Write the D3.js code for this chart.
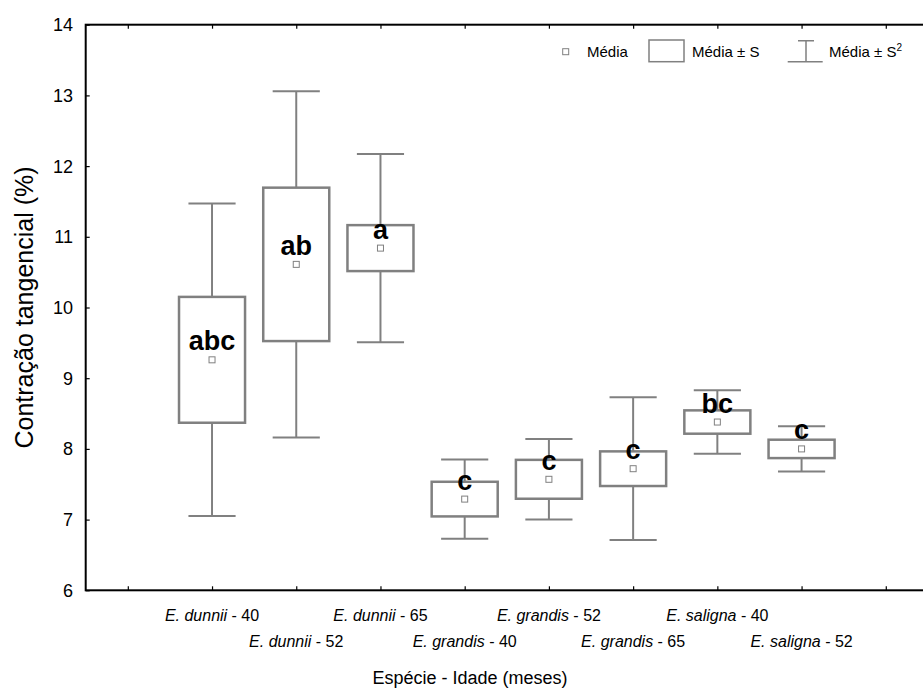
<!DOCTYPE html>
<html>
<head>
<meta charset="utf-8">
<script src="https://cdn.jsdelivr.net/npm/d3@7"></script>
<style>
  body { margin: 0; background: #fff; }
  svg { display: block; font-family: "Liberation Sans", Arial, sans-serif; }
</style>
</head>
<body>
<div id="chart"></div>
<script>
// groups: species + age (months)
const species = ["E. dunnii", "E. dunnii", "E. dunnii", "E. grandis", "E. grandis", "E. grandis", "E. saligna", "E. saligna"];
const ages = ["40", "52", "65", "40", "52", "65", "40", "52"];
// mean, half height of box (S) and half length of whiskers (S²)
const means = [9.26, 10.61, 10.84, 7.29, 7.57, 7.72, 8.38, 8.0];
const sBox = [0.89, 1.085, 0.325, 0.245, 0.275, 0.245, 0.165, 0.13];
const sWhisker = [2.21, 2.45, 1.33, 0.56, 0.57, 1.01, 0.45, 0.32];
const letters = ["abc", "ab", "a", "c", "c", "c", "bc", "c"];
const yTicks = [6, 7, 8, 9, 10, 11, 12, 13, 14];
const xTicks = d3.range(0, 10);

const data = means.map((m, i) => ({
  species: species[i],
  age: ages[i],
  mean: m,
  s: sBox[i],
  s2: sWhisker[i],
  letter: letters[i],
  pos: i + 1,
}));

const width = 923;
const height = 693;
const marginLeft = 85.7;
const marginTop = 24.7;
const plotBottom = 590.3;
const grey = "#808080";

const x = d3.scaleLinear().domain([-0.5, 9.5]).range([marginLeft, marginLeft + 842.2]);
const y = d3.scaleLinear().domain([6, 14]).range([plotBottom, marginTop]);
const step = x(1) - x(0);
const boxHalf = step * 0.392;
const capHalf = step * 0.28;

const svg = d3.select("#chart")
  .append("svg")
  .attr("width", width)
  .attr("height", height);

// frame with inward ticks
const frame = svg.append("g").attr("class", "frame");

frame.append("g")
  .attr("transform", `translate(${marginLeft},0)`)
  .call(d3.axisRight(y).tickValues(yTicks).tickSize(4).tickFormat(""))
  .call((g) => g.select(".domain").remove())
  .call((g) => g.selectAll(".tick line").attr("stroke", "#000").attr("stroke-width", 1.2));

frame.append("g")
  .attr("transform", `translate(0,${plotBottom})`)
  .call(d3.axisTop(x).tickValues(xTicks).tickSize(4).tickFormat(""))
  .call((g) => g.select(".domain").remove())
  .call((g) => g.selectAll(".tick line").attr("stroke", "#000").attr("stroke-width", 1.2));

frame.append("g")
  .attr("transform", `translate(0,${marginTop})`)
  .call(d3.axisBottom(x).tickValues(xTicks).tickSize(4).tickFormat(""))
  .call((g) => g.select(".domain").remove())
  .call((g) => g.selectAll(".tick line").attr("stroke", "#000").attr("stroke-width", 1.2));

frame.append("rect")
  .attr("x", marginLeft)
  .attr("y", marginTop)
  .attr("width", x.range()[1] - marginLeft)
  .attr("height", plotBottom - marginTop)
  .attr("fill", "none")
  .attr("stroke", "#000")
  .attr("stroke-width", 2);

// y tick labels
svg.append("g")
  .selectAll("text")
  .data(yTicks)
  .join("text")
  .attr("x", 73)
  .attr("y", (d) => y(d))
  .attr("dy", "0.36em")
  .attr("text-anchor", "end")
  .attr("font-size", 18)
  .text((d) => d);

// category labels on two staggered rows
svg.append("g")
  .selectAll("text")
  .data(data)
  .join("text")
  .attr("x", (d) => x(d.pos))
  .attr("y", (d, i) => (i % 2 === 0 ? 621 : 647))
  .attr("text-anchor", "middle")
  .attr("font-size", 16)
  .call((t) => t.append("tspan").attr("font-style", "italic").text((d) => d.species))
  .call((t) => t.append("tspan").text((d) => ` - ${d.age}`));

// axis titles
svg.append("text")
  .attr("x", 470)
  .attr("y", 684)
  .attr("text-anchor", "middle")
  .attr("font-size", 18)
  .text("Espécie - Idade (meses)");

svg.append("text")
  .attr("transform", `translate(33,${(marginTop + plotBottom) / 2}) rotate(-90)`)
  .attr("text-anchor", "middle")
  .attr("font-size", 25)
  .text("Contração tangencial (%)");

// boxes
const boxG = svg.append("g")
  .selectAll("g")
  .data(data)
  .join("g")
  .attr("transform", (d) => `translate(${x(d.pos)},0)`);

boxG.append("line")
  .attr("y1", (d) => y(d.mean + d.s2))
  .attr("y2", (d) => y(d.mean + d.s))
  .attr("stroke", grey)
  .attr("stroke-width", 2);

boxG.append("line")
  .attr("y1", (d) => y(d.mean - d.s))
  .attr("y2", (d) => y(d.mean - d.s2))
  .attr("stroke", grey)
  .attr("stroke-width", 2);

boxG.selectAll(".cap")
  .data((d) => [d.mean + d.s2, d.mean - d.s2])
  .join("line")
  .attr("class", "cap")
  .attr("x1", -capHalf)
  .attr("x2", capHalf)
  .attr("y1", (v) => y(v))
  .attr("y2", (v) => y(v))
  .attr("stroke", grey)
  .attr("stroke-width", 2);

boxG.append("rect")
  .attr("x", -boxHalf)
  .attr("width", boxHalf * 2)
  .attr("y", (d) => y(d.mean + d.s))
  .attr("height", (d) => y(d.mean - d.s) - y(d.mean + d.s))
  .attr("fill", "#fff")
  .attr("stroke", grey)
  .attr("stroke-width", 2.5);

boxG.append("rect")
  .attr("x", -3)
  .attr("y", (d) => y(d.mean) - 3)
  .attr("width", 6)
  .attr("height", 6)
  .attr("fill", "#fff")
  .attr("stroke", grey)
  .attr("stroke-width", 1);

boxG.append("text")
  .attr("y", (d) => y(d.mean) - 9.5)
  .attr("text-anchor", "middle")
  .attr("font-size", 27)
  .attr("font-weight", "bold")
  .attr("fill", "#000")
  .text((d) => d.letter);

// legend
const legend = svg.append("g").attr("font-size", 15);

legend.append("rect")
  .attr("x", 562.7).attr("y", 48.7).attr("width", 6).attr("height", 6)
  .attr("fill", "#fff").attr("stroke", grey).attr("stroke-width", 1);
legend.append("text").attr("x", 587).attr("y", 57).text("Média");

legend.append("rect")
  .attr("x", 649).attr("y", 40).attr("width", 35).attr("height", 21.7)
  .attr("fill", "#fff").attr("stroke", grey).attr("stroke-width", 1.5);
legend.append("text").attr("x", 692).attr("y", 57).text("Média ± S");

legend.append("path")
  .attr("d", "M798,40.7H814M806,40.7V61.7M787.7,61.7H822.7")
  .attr("fill", "none").attr("stroke", grey).attr("stroke-width", 1.5);
legend.append("text").attr("x", 829).attr("y", 57)
  .call((t) => t.append("tspan").text("Média ± S"))
  .call((t) => t.append("tspan").attr("font-size", 10).attr("dy", -6).text("2"));
</script>
</body>
</html>
